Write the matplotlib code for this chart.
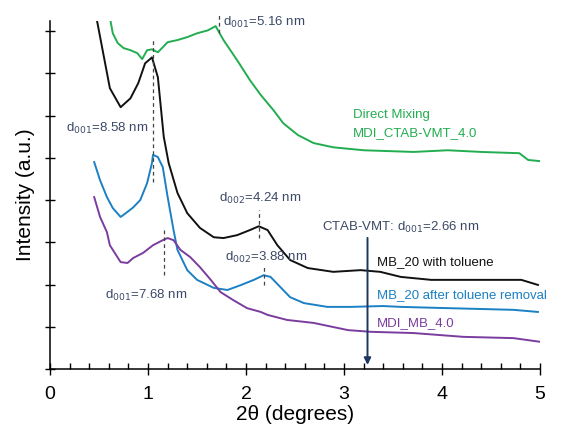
import numpy as np
import matplotlib
matplotlib.use("Agg")
from matplotlib import pyplot as plt
from matplotlib.ticker import MultipleLocator

plt.rcParams['font.family'] = ['Liberation Sans', 'DejaVu Sans']

# XRD patterns (2theta in degrees, intensity in arbitrary units)
green_x = [0.60, 0.64, 0.69, 0.75, 0.82, 0.89, 0.94, 0.99, 1.04, 1.10, 1.20, 1.30, 1.40,
           1.50, 1.61, 1.69, 1.77, 1.91, 2.04, 2.15, 2.28, 2.38, 2.53, 2.69, 2.89, 3.20,
           3.71, 4.06, 4.40, 4.79, 4.88, 5.01]
green_y = [8.45, 7.95, 7.72, 7.60, 7.55, 7.48, 7.34, 7.55, 7.57, 7.50, 7.74, 7.79, 7.86,
           7.95, 8.02, 8.12, 7.79, 7.31, 6.84, 6.49, 6.13, 5.82, 5.54, 5.35, 5.25, 5.18,
           5.14, 5.18, 5.14, 5.11, 4.95, 4.92]

black_x = [0.45, 0.61, 0.72, 0.82, 0.90, 0.97, 1.04, 1.10, 1.16, 1.21, 1.30, 1.40, 1.53,
           1.67, 1.77, 1.91, 2.04, 2.13, 2.22, 2.32, 2.45, 2.63, 2.89, 3.17, 3.37, 3.58,
           3.89, 4.40, 4.81, 4.98]
black_y = [8.60, 6.65, 6.20, 6.41, 6.77, 7.24, 7.38, 6.91, 5.50, 4.88, 4.17, 3.69, 3.34,
           3.12, 3.10, 3.17, 3.29, 3.38, 3.29, 2.93, 2.58, 2.39, 2.30, 2.34, 2.30, 2.18,
           2.11, 2.11, 2.11, 1.99]

blue_x = [0.45, 0.51, 0.58, 0.64, 0.72, 0.79, 0.85, 0.92, 0.99, 1.04, 1.05, 1.10, 1.15,
          1.20, 1.26, 1.30, 1.40, 1.50, 1.67, 1.81, 1.94, 2.08, 2.18, 2.25, 2.35, 2.45,
          2.59, 2.83, 3.07, 3.40, 3.58, 4.06, 4.73, 4.98]
blue_y = [4.90, 4.47, 4.07, 3.81, 3.60, 3.72, 3.83, 4.00, 4.40, 4.88, 5.07, 5.02, 4.78,
          4.07, 3.29, 2.82, 2.34, 2.11, 1.92, 1.87, 1.98, 2.11, 2.22, 2.18, 1.94, 1.70,
          1.56, 1.47, 1.47, 1.49, 1.47, 1.44, 1.40, 1.35]

purple_x = [0.45, 0.51, 0.58, 0.61, 0.72, 0.79, 0.85, 0.95, 1.05, 1.15, 1.20, 1.26, 1.33,
            1.43, 1.53, 1.64, 1.74, 1.87, 2.01, 2.15, 2.22, 2.42, 2.69, 3.04, 3.27, 3.71,
            4.22, 4.73, 5.01]
purple_y = [4.07, 3.60, 3.24, 2.93, 2.53, 2.51, 2.63, 2.75, 2.93, 3.05, 3.10, 3.05, 2.82,
            2.65, 2.41, 2.11, 1.82, 1.63, 1.44, 1.35, 1.28, 1.16, 1.09, 0.92, 0.88, 0.85,
            0.76, 0.73, 0.64]

# d-spacing markers: x position, y bottom, y top
peak_x = [1.05, 1.72, 2.13, 2.18, 1.16]
peak_lo = [4.43, 7.95, 3.10, 1.99, 2.22]
peak_hi = [7.83, 8.38, 3.76, 2.41, 3.34]

ctab_x = 3.24

GREEN = '#22ad50'
BLACK = '#111111'
BLUE = '#1b80c4'
PURPLE = '#7a3d9e'
NOTE = '#3b4866'

fig = plt.figure(figsize=(5.63, 4.30), dpi=100)
ax = fig.add_axes([0.089, 0.142, 0.870, 0.809])

ax.plot(green_x, green_y, color=GREEN, lw=1.4)
ax.plot(black_x, black_y, color=BLACK, lw=1.4)
ax.plot(blue_x, blue_y, color=BLUE, lw=1.4)
ax.plot(purple_x, purple_y, color=PURPLE, lw=1.4)

for px, lo, hi in zip(peak_x, peak_lo, peak_hi):
    ax.plot([px, px], [lo, hi], color='#444444', lw=0.9, ls=(0, (3, 2.5)), clip_on=False)

ax.annotate('', xy=(ctab_x, 0.03), xytext=(ctab_x, 3.17),
            arrowprops=dict(arrowstyle='-|>', color='#1d3560', lw=1.4, mutation_scale=10))

fs = 9.5
ax.text(1.0, 5.70, r'd$_{001}$=8.58 nm', color=NOTE, fontsize=fs, ha='right', va='center')
ax.text(1.76, 8.21, r'd$_{001}$=5.16 nm', color=NOTE, fontsize=fs, ha='left', va='center',
        clip_on=False)
ax.text(1.72, 4.05, r'd$_{002}$=4.24 nm', color=NOTE, fontsize=fs, ha='left', va='center')
ax.text(1.79, 2.63, r'd$_{002}$=3.88 nm', color=NOTE, fontsize=fs, ha='left', va='center')
ax.text(0.56, 1.75, r'd$_{001}$=7.68 nm', color=NOTE, fontsize=fs, ha='left', va='center')
ax.text(2.78, 3.36, r'CTAB-VMT: d$_{001}$=2.66 nm', color=NOTE, fontsize=fs, ha='left',
        va='center')

ax.text(3.34, 2.53, 'MB_20 with toluene', color=BLACK, fontsize=fs, va='center')
ax.text(3.34, 1.75, 'MB_20 after toluene removal', color=BLUE, fontsize=fs, va='center')
ax.text(3.34, 1.09, 'MDI_MB_4.0', color=PURPLE, fontsize=fs, va='center')
ax.text(3.09, 6.01, 'Direct Mixing', color=GREEN, fontsize=fs, va='center')
ax.text(3.09, 5.58, 'MDI_CTAB-VMT_4.0', color=GREEN, fontsize=fs, va='center')

ax.set_xlim(0, 5)
ax.set_ylim(0, 8.24)
ax.xaxis.set_major_locator(MultipleLocator(1))
ax.xaxis.set_minor_locator(MultipleLocator(0.2))
ax.yaxis.set_major_locator(MultipleLocator(1))
ax.set_yticklabels([])
ax.tick_params(axis='x', which='major', direction='inout', length=9, width=1, labelsize=14,
               pad=8)
ax.tick_params(axis='x', which='minor', direction='in', length=4, width=1)
ax.tick_params(axis='y', which='major', direction='inout', length=7, width=1)
for s in ['top', 'right']:
    ax.spines[s].set_visible(False)
for s in ['left', 'bottom']:
    ax.spines[s].set_linewidth(1.1)

ax.set_xlabel('2θ (degrees)', fontsize=15, labelpad=1)
ax.set_ylabel('Intensity (a.u.)', fontsize=15, labelpad=4)

fig.savefig('out.png', dpi=100)
